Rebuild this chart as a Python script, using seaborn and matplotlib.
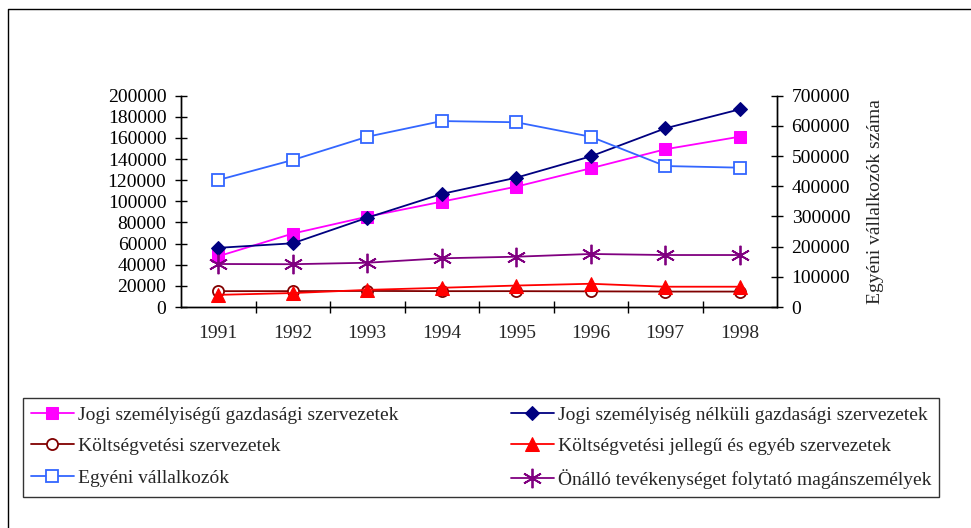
import matplotlib
matplotlib.use("Agg")
import matplotlib.pyplot as plt
from matplotlib.lines import Line2D
import seaborn as sns

# ── Data ──────────────────────────────────────────────────────
years = [1991, 1992, 1993, 1994, 1995, 1996, 1997, 1998]

jogi_szemelyisegu = [48000, 69500, 85500, 99700, 113900, 131300, 149300, 161200]
jogi_nelkuli = [56000, 60300, 84500, 107000, 122400, 142600, 169100, 187100]
koltsegvetesi_szerv = [15000, 15000, 15200, 15000, 15000, 14800, 14600, 14600]
koltsegvetesi_jelleg = [11500, 13200, 16200, 18200, 20300, 22000, 19200, 19200]
onallo_maganszemelyek = [40700, 40500, 41900, 46100, 47600, 50200, 49200, 49200]
# right axis
egyeni_vallalkozok = [420700, 487000, 564000, 616000, 612000, 564000, 467000, 461600]

left_ticks = list(range(0, 200001, 20000))
right_ticks = list(range(0, 700001, 100000))

labels = {
    "jogi": "Jogi személyiségű gazdasági szervezetek",
    "nelk": "Jogi személyiség nélküli gazdasági szervezetek",
    "kszerv": "Költségvetési szervezetek",
    "kjell": "Költségvetési jellegű és egyéb szervezetek",
    "egyeni": "Egyéni vállalkozók",
    "onallo": "Önálló tevékenységet folytató magánszemélyek",
}

# ── Style ─────────────────────────────────────────────────────
sns.set_style("white")
plt.rcParams["font.family"] = ["Liberation Serif", "DejaVu Serif"]
FS = 14

W, H = 971, 528
fig = plt.figure(figsize=(W / 100, H / 100), dpi=100)
ax = fig.add_axes([181 / W, 1 - 307 / H, (777 - 181) / W, (307 - 95.7) / H])
ax2 = ax.twinx()

lw = 1.3
sns.lineplot(x=years, y=jogi_szemelyisegu, ax=ax, color="#FF00FF", marker="s",
             markersize=9, markeredgecolor="#FF00FF", linewidth=lw,
             label=labels["jogi"], legend=False)
sns.lineplot(x=years, y=jogi_nelkuli, ax=ax, color="#000080", marker="D",
             markersize=7, markeredgecolor="#000080", linewidth=lw,
             label=labels["nelk"], legend=False)
sns.lineplot(x=years, y=koltsegvetesi_szerv, ax=ax, color="#800000", marker="o",
             markersize=8, markerfacecolor="white", markeredgecolor="#800000",
             markeredgewidth=1.3, linewidth=lw,
             label=labels["kszerv"], legend=False)
sns.lineplot(x=years, y=koltsegvetesi_jelleg, ax=ax, color="#FF0000", marker="^",
             markersize=10, markeredgecolor="#FF0000", linewidth=lw,
             label=labels["kjell"], legend=False)
sns.lineplot(x=years, y=onallo_maganszemelyek, ax=ax, color="#800080", marker=(6, 2, 0),
             markersize=14, markeredgecolor="#800080", markeredgewidth=1.3, linewidth=lw,
             label=labels["onallo"], legend=False)
sns.lineplot(x=years, y=egyeni_vallalkozok, ax=ax2, color="#3366FF", marker="s",
             markersize=9, markerfacecolor="white", markeredgecolor="#3366FF",
             markeredgewidth=1.3, linewidth=lw,
             label=labels["egyeni"], legend=False)

# ── Axes ──────────────────────────────────────────────────────
for a in (ax, ax2):
    a.set_xlim(years[0] - 0.5, years[-1] + 0.5)
    a.spines["top"].set_visible(False)
    for s in ("left", "right", "bottom"):
        a.spines[s].set_color("black")
        a.spines[s].set_linewidth(1.0)
    a.grid(False)
    a.set_xlabel("")
    a.set_ylabel("")

ax.set_ylim(0, 200000)
ax.set_yticks(left_ticks)
ax.set_yticklabels([str(v) for v in left_ticks])
ax.tick_params(axis="y", direction="inout", length=9, width=1, pad=6,
               labelsize=FS, left=True, colors="black")

ax2.set_ylim(0, 700000)
ax2.set_yticks(right_ticks)
ax2.set_yticklabels([str(v) for v in right_ticks])
ax2.tick_params(axis="y", direction="inout", length=9, width=1, pad=6,
                labelsize=FS, right=True, colors="black")
ax2.set_ylabel("Egyéni vállalkozók száma", fontsize=FS, labelpad=12)

ax.set_xticks(years)
ax.set_xticklabels([str(y) for y in years])
ax.set_xticks([y + 0.5 for y in years[:-1]], minor=True)
ax.tick_params(axis="x", which="major", length=0, pad=13, labelsize=FS)
ax.tick_params(axis="x", which="minor", direction="inout", length=9, width=1,
               bottom=True, color="black")

# ── Legend ────────────────────────────────────────────────────
h1, l1 = ax.get_legend_handles_labels()
h2, l2 = ax2.get_legend_handles_labels()
hmap = dict(zip(l1 + l2, h1 + h2))
order = ["jogi", "kszerv", "egyeni", "nelk", "kjell", "onallo"]
leg = fig.legend([hmap[labels[k]] for k in order], [labels[k] for k in order],
                 ncol=2, loc="center", mode="expand",
                 bbox_to_anchor=(13 / W, 1 - 497 / H, 936 / W, 99 / H),
                 frameon=True, fancybox=False, edgecolor="black",
                 fontsize=FS, handlelength=2.2, handletextpad=0.2,
                 labelspacing=0.72, borderpad=0.42, columnspacing=1.0)
leg.get_frame().set_linewidth(1.0)

# outer chart-area border (only top and left edges fall inside the image)
fig.lines.append(Line2D([8 / W, 8 / W, 1.0], [0.0, 1 - 9 / H, 1 - 9 / H],
                        transform=fig.transFigure, color="black", linewidth=1.0))

fig.savefig("out.png", dpi=100)
